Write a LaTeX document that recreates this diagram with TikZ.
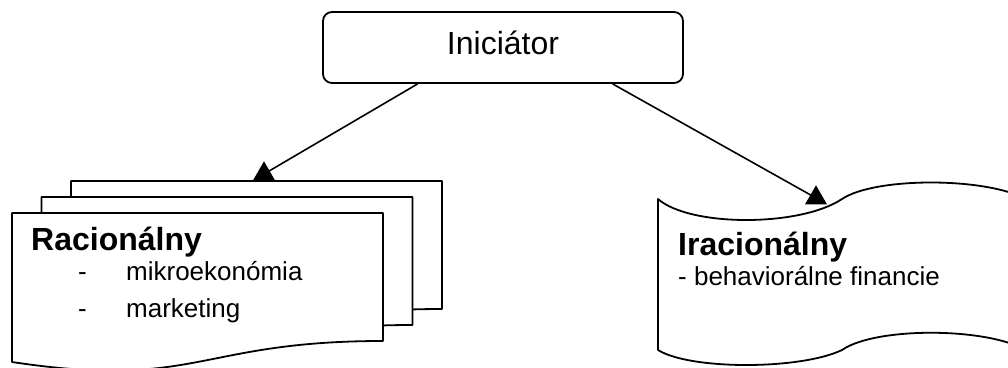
\documentclass[tikz,border=0pt]{standalone}
\usepackage{fontspec}
\setmainfont{Liberation Sans}
\usetikzlibrary{shapes.geometric,calc}
\begin{document}
\begin{tikzpicture}[x=1pt,y=-1pt,
  outline/.style={draw=black, line width=1.8pt, line join=round},
  page/.style={outline, fill=white},
  head/.style={font=\fontsize{32}{38}\selectfont\bfseries, anchor=base west, inner sep=0pt},
  item/.style={font=\fontsize{26}{31}\selectfont, anchor=base west, inner sep=0pt},
  tipmark/.style={regular polygon, regular polygon sides=3, fill=black, inner sep=0pt, outer sep=0pt, minimum size=25.4pt},
  link/.style={line width=1.6pt}]
\useasboundingbox (0,0) rectangle (1008,367);
\clip (0,0) rectangle (1008,367);

% stack of three pages (back to front)
\foreach \dx/\dy in {59/-32, 29.5/-16, 0/0} {
  \begin{scope}[shift={(\dx,\dy)}]
    \draw[page] (12,213) -- (383,213) -- (383,341)
      .. controls (197.5,341) and (197.5,390) .. (12,362) -- cycle;
  \end{scope}
}

% punched tape
\draw[page] (658,199) .. controls (690,227) and (800,227) .. (842,199)
  .. controls (875,177) and (985,177) .. (1026,199) -- (1026,350)
  .. controls (985,327) and (875,327) .. (842,350)
  .. controls (800,370) and (690,370) .. (658,350) -- cycle;

% top box
\node[outline, rounded corners=9pt, minimum width=360pt, minimum height=71pt,
      font=\fontsize{32}{38}\selectfont, text height=23pt, text depth=9pt, inner sep=0pt]
  (init) at (503,47.5) {Iniciátor};

% texts
\node[head] (rac) at (31,250) {Racionálny};
\node[item] (d1) at (78,280) {-};
\node[item] (mikro) at (126,280) {mikroekonómia};
\node[item] (d2) at (78,317) {-};
\node[item] (mark) at (126,317) {marketing};
\node[head] (irac) at (678,255) {Iracionálny};
\node[item] (beh) at (678,285) {- behaviorálne financie};

% connectors
\coordinate (endL) at (264,174);
\coordinate (endR) at (816,198);
\draw[link] ($(init.south west)!0.264!(init.south east)$) -- (endL);
\draw[link] ($(init.south west)!0.803!(init.south east)$) -- (endR);
\node[tipmark] (tipL) at (endL) {};
\node[tipmark] (tipR) at (endR) {};
\end{tikzpicture}
\end{document}
